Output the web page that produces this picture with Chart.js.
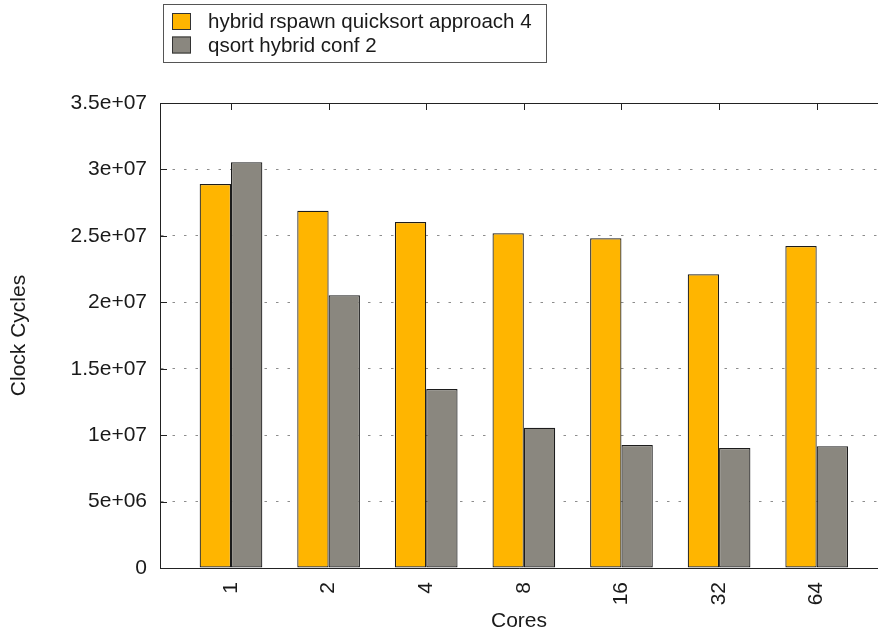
<!DOCTYPE html>
<html>
<head>
<meta charset="utf-8">
<script src="https://cdn.jsdelivr.net/npm/chart.js@4/dist/chart.umd.min.js"></script>
<style>
  html, body { margin: 0; padding: 0; background: #fff; overflow: hidden; }
  #wrap { width: 878px; height: 637px; position: relative; }
</style>
</head>
<body>
<div id="wrap"><canvas id="c" width="878" height="637"></canvas></div>
<script>
// Benchmark data: clock cycles per core count
const cores = ['1', '2', '4', '8', '16', '32', '64'];
const seriesNames = ['hybrid rspawn quicksort approach 4', 'qsort hybrid conf 2'];
const rspawnCycles = [2.890e7, 2.689e7, 2.604e7, 2.519e7, 2.482e7, 2.211e7, 2.424e7];
const qsortCycles  = [3.054e7, 2.053e7, 1.347e7, 1.056e7, 9.26e6, 9.03e6, 9.16e6];
const yTickValues = [0, 5e6, 1e7, 1.5e7, 2e7, 2.5e7, 3e7, 3.5e7];
const yTickLabels = ['0', '5e+06', '1e+07', '1.5e+07', '2e+07', '2.5e+07', '3e+07', '3.5e+07'];

const FONT = "'Liberation Sans', Arial, Helvetica, sans-serif";
const TEXT = '#1a1a1a';
const AXIS = '#222222';

// Frame, inward tick marks and the boxed key at the top
const framePlugin = {
  id: 'frame',
  afterDraw(chart) {
    const { ctx, chartArea: a, scales: { x, y } } = chart;
    ctx.save();
    ctx.strokeStyle = AXIS;
    ctx.lineWidth = 1;
    ctx.beginPath();
    ctx.moveTo(a.left, a.top + 0.5);
    ctx.lineTo(a.right, a.top + 0.5);
    cores.forEach((c, i) => {
      const px = Math.round(x.getPixelForValue(i)) + 0.5;
      ctx.moveTo(px, a.top);
      ctx.lineTo(px, a.top + 7);
    });
    yTickValues.forEach(v => {
      const py = Math.round(y.getPixelForValue(v)) + 0.5;
      ctx.moveTo(a.left, py);
      ctx.lineTo(a.left + 7, py);
    });
    ctx.stroke();

    // key box
    ctx.strokeStyle = '#555555';
    ctx.strokeRect(163.5, 4.5, 383, 58);
    ctx.font = '20.5px ' + FONT;
    ctx.textBaseline = 'middle';
    ctx.textAlign = 'left';
    chart.data.datasets.forEach((ds, i) => {
      const cy = 21.5 + i * 23.5;
      ctx.fillStyle = ds.backgroundColor;
      ctx.fillRect(172, cy - 8.5, 19, 17);
      ctx.strokeStyle = '#333333';
      ctx.strokeRect(172.5, cy - 8, 18, 16);
      ctx.fillStyle = TEXT;
      ctx.fillText(ds.label, 208, cy + 1);
    });
    ctx.restore();
  }
};

const barStyle = {
  borderColor: '#1c1c1c',
  borderWidth: 1.2,
  borderSkipped: false,
  categoryPercentage: 0.642,
  barPercentage: 1.0
};

new Chart(document.getElementById('c'), {
  type: 'bar',
  data: {
    datasets: [
      Object.assign({
        label: seriesNames[0],
        data: cores.map((c, i) => ({ x: i, y: rspawnCycles[i] })),
        backgroundColor: '#FFB500'
      }, barStyle),
      Object.assign({
        label: seriesNames[1],
        data: cores.map((c, i) => ({ x: i, y: qsortCycles[i] })),
        backgroundColor: '#8A877F'
      }, barStyle)
    ]
  },
  options: {
    responsive: false,
    animation: false,
    devicePixelRatio: 1,
    layout: { padding: { top: 103, left: 0, right: 0, bottom: 0 } },
    plugins: {
      legend: { display: false },
      tooltip: { enabled: false }
    },
    scales: {
      x: {
        type: 'linear',
        min: -0.7273,
        max: 6.628,
        offset: false,
        afterBuildTicks: s => { s.ticks = cores.map((c, i) => ({ value: i })); },
        afterFit: s => { s.height = 69; },
        ticks: {
          autoSkip: false,
          minRotation: 90,
          maxRotation: 90,
          padding: 14,
          color: TEXT,
          font: { family: FONT, size: 21 },
          callback: v => cores[v] ?? ''
        },
        grid: { display: false, drawTicks: false },
        border: { display: true, color: AXIS, width: 1 },
        title: {
          display: true,
          text: 'Cores',
          color: TEXT,
          font: { family: FONT, size: 21 },
          padding: { top: 0, bottom: 3 }
        }
      },
      y: {
        type: 'linear',
        min: 0,
        max: 3.5e7,
        afterBuildTicks: s => { s.ticks = yTickValues.map(v => ({ value: v })); },
        afterFit: s => { s.width = 160; },
        ticks: {
          padding: 13,
          color: TEXT,
          font: { family: FONT, size: 21 },
          callback: (v, i) => yTickLabels[i]
        },
        grid: { display: true, drawTicks: false, color: '#8c8c8c', lineWidth: 1 },
        border: { display: true, color: AXIS, width: 1, dash: [2.5, 9] },
        title: {
          display: true,
          text: 'Clock Cycles',
          color: TEXT,
          font: { family: FONT, size: 21 },
          padding: { top: 7, bottom: 0 }
        }
      }
    }
  },
  plugins: [framePlugin]
});
</script>
</body>
</html>
